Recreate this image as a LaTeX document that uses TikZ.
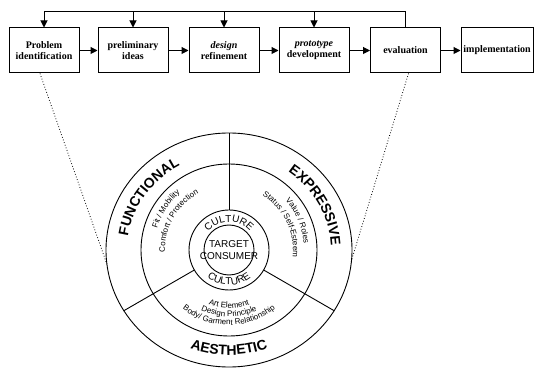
\documentclass[tikz,border=0pt]{standalone}
\usepackage{fontspec}
\setmainfont{Liberation Serif}
\setsansfont{Liberation Sans}
\usetikzlibrary{arrows.meta,shapes.geometric,decorations.text}
\newcommand{\ringtext}[5]{\path[decorate,decoration={text along path,text align=center,text={#5}}] (C) ++(#1:#3pt and #4pt) arc[start angle=#1,end angle=#2,x radius=#3pt,y radius=#4pt];}
\tikzset{
  stagebox/.style={draw, line width=1pt, minimum width=70pt, minimum height=45pt, align=center,
    font=\fontsize{10}{11}\selectfont\bfseries, inner sep=1pt},
  flow/.style={line width=1pt, -{Triangle[length=7pt,width=7pt]}},
  ring/.style={draw, line width=0.9pt, inner sep=0pt, outer sep=0pt},
  dotline/.style={dotted, line width=0.8pt},
  divider/.style={line width=0.9pt}
}
\begin{document}
\begin{tikzpicture}[x=1pt,y=1pt]
\useasboundingbox (0,0) rectangle (534,369);
% process boxes
\node[stagebox] (b1) at (44,318.5) {Problem\\identification};
\node[stagebox] (b2) at (133,318.5) {preliminary\\ideas};
\node[stagebox] (b3) at (224,318.5) {\itshape design\\refinement};
\node[stagebox] (b4) at (314,318.5) {\itshape prototype\\development};
\node[stagebox] (b5) at (405.5,318.5) {evaluation};
\node[stagebox, minimum width=72pt] (b6) at (497,318.5) {implementation};
\draw[flow] (b1) -- (b2);
\draw[flow] (b2) -- (b3);
\draw[flow] (b3) -- (b4);
\draw[flow] (b4) -- (b5);
\draw[flow] (b5) -- (b6);
% feedback loop
\path (b5.north) ++(0,16) coordinate (fb);
\draw[flow] (b5.north) -- (fb) -- (fb -| b1.north) -- (b1.north);
\draw[flow] (fb -| b2.north) -- (b2.north);
\draw[flow] (fb -| b3.north) -- (b3.north);
\draw[flow] (fb -| b4.north) -- (b4.north);
% circles
\coordinate (C) at (229,119);
\node[ring, ellipse, minimum width=246pt, minimum height=234pt] (outer) at (C) {};
\node[ring, ellipse, minimum width=176pt, minimum height=172pt] (middle) at (C) {};
\node[ring, circle, minimum size=80pt] (culture) at (C) {};
\node[ring, circle, minimum size=50pt] (target) at (C) {};
\draw[divider] (culture.90) -- (outer.90);
\draw[divider] (culture.210) -- (outer.210);
\draw[divider] (culture.330) -- (outer.330);
% dotted zoom lines
\path (C) ++(187:123pt and 117pt) coordinate (L);
\path (C) ++(-5:123pt and 117pt) coordinate (R);
\draw[dotline] ([xshift=-4pt]b1.south) -- (L);
\draw[dotline] ([xshift=3pt]b5.south) -- (R);
% centre text
\node[font=\sffamily\fontsize{10}{12.5}\selectfont, align=center, inner sep=0pt] (tc) at (C) {TARGET\\CONSUMER};
% ring texts
\ringtext{200}{92}{102}{96}{|\sffamily\bfseries\fontsize{14}{14}\selectfont|FUNCTIONAL}
\ringtext{82}{-26}{102}{96}{|\sffamily\bfseries\fontsize{14}{14}\selectfont|EXPRESSIVE}
\ringtext{220}{320}{110}{105}{|\sffamily\bfseries\fontsize{14}{14}\selectfont|AESTHETIC}
\ringtext{160}{20}{28}{28}{|\sffamily\fontsize{10}{10}\selectfont|CULTURE}
\ringtext{200}{340}{35}{35}{|\sffamily\fontsize{10}{10}\selectfont|CULTURE}
\ringtext{207}{87}{75}{75}{|\sffamily\fontsize{8}{8}\selectfont|Fit / Mobility}
\ringtext{210}{90}{64}{64}{|\sffamily\fontsize{8}{8}\selectfont|Comfort / Protection}
\ringtext{80}{-34}{75}{75}{|\sffamily\fontsize{8}{8}\selectfont|Value / Roles}
\ringtext{90}{-38}{64}{64}{|\sffamily\fontsize{8}{8}\selectfont|Status / Self-Esteem}
\ringtext{210}{330}{58}{58}{|\sffamily\fontsize{8}{8}\selectfont|Art Element}
\ringtext{210}{330}{66.5}{66.5}{|\sffamily\fontsize{8}{8}\selectfont|Design Principle}
\ringtext{210}{330}{75}{75}{|\sffamily\fontsize{8}{8}\selectfont|Body/ Garment Relationship}
\end{tikzpicture}
\end{document}
